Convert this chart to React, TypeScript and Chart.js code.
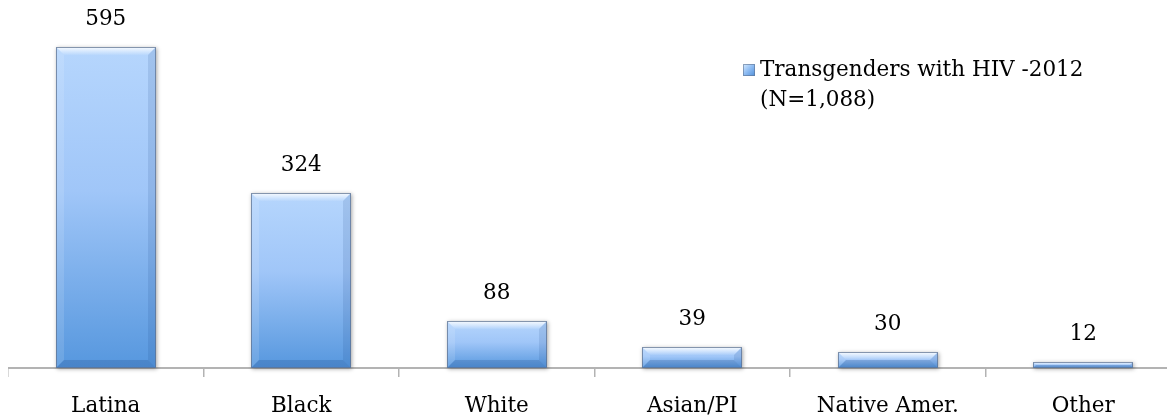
import React, { useEffect, useRef } from "react";
import { Chart, registerables } from "chart.js";

Chart.register(...registerables);

const categories = ["Latina", "Black", "White", "Asian/PI", "Native Amer.", "Other"];
const values = [595, 324, 88, 39, 30, 12];
const legendLines = ["Transgenders with HIV -2012", "(N=1,088)"];
const yMax = 667;

const FONT = "'DejaVu Serif', serif";
const FONT_SIZE = 21.5;

const bevelBars = {
  id: "bevelBars",
  afterDatasetsDraw(chart: any) {
    const ctx = chart.ctx;
    const meta = chart.getDatasetMeta(0);
    meta.data.forEach((bar: any, i: number) => {
      const { x, y, base, width } = bar.getProps(["x", "y", "base", "width"], true);
      const x0 = Math.round(x - width / 2);
      const x1 = Math.round(x + width / 2);
      const y0 = Math.round(y);
      const y1 = Math.round(base);
      const h = y1 - y0;
      const b = Math.min(8, h / 2);
      ctx.save();
      ctx.shadowColor = "rgba(0,0,0,0.35)";
      ctx.shadowBlur = 4;
      ctx.shadowOffsetX = 1;
      ctx.shadowOffsetY = 1;
      const g = ctx.createLinearGradient(0, y0, 0, y1);
      g.addColorStop(0, "#b6d6fd");
      g.addColorStop(0.45, "#a0c6f8");
      g.addColorStop(1, "#5697de");
      ctx.fillStyle = g;
      ctx.fillRect(x0, y0, x1 - x0, h);
      ctx.shadowColor = "transparent";
      ctx.shadowBlur = 0;
      ctx.shadowOffsetX = 0;
      ctx.shadowOffsetY = 0;
      // top bevel
      const tg = ctx.createLinearGradient(0, y0, 0, y0 + b);
      tg.addColorStop(0, "rgba(255,255,255,0.9)");
      tg.addColorStop(1, "rgba(255,255,255,0.05)");
      ctx.fillStyle = tg;
      ctx.beginPath();
      ctx.moveTo(x0, y0);
      ctx.lineTo(x1, y0);
      ctx.lineTo(x1 - b, y0 + b);
      ctx.lineTo(x0 + b, y0 + b);
      ctx.closePath();
      ctx.fill();
      // left bevel
      ctx.fillStyle = "rgba(255,255,255,0.12)";
      ctx.beginPath();
      ctx.moveTo(x0, y0);
      ctx.lineTo(x0 + b, y0 + b);
      ctx.lineTo(x0 + b, y1 - b);
      ctx.lineTo(x0, y1);
      ctx.closePath();
      ctx.fill();
      // right bevel
      ctx.fillStyle = "rgba(20,60,120,0.12)";
      ctx.beginPath();
      ctx.moveTo(x1, y0);
      ctx.lineTo(x1 - b, y0 + b);
      ctx.lineTo(x1 - b, y1 - b);
      ctx.lineTo(x1, y1);
      ctx.closePath();
      ctx.fill();
      // bottom bevel
      ctx.fillStyle = "rgba(20,60,120,0.2)";
      ctx.beginPath();
      ctx.moveTo(x0, y1);
      ctx.lineTo(x0 + b, y1 - b);
      ctx.lineTo(x1 - b, y1 - b);
      ctx.lineTo(x1, y1);
      ctx.closePath();
      ctx.fill();
      ctx.strokeStyle = "rgba(95,115,145,0.75)";
      ctx.lineWidth = 1;
      ctx.strokeRect(x0 + 0.5, y0 + 0.5, x1 - x0 - 1, h - 1);
      // value label
      ctx.fillStyle = "#000";
      ctx.font = FONT_SIZE + "px " + FONT;
      ctx.textAlign = "center";
      ctx.textBaseline = "middle";
      ctx.fillText(String(values[i]), x, y0 - 28);
      ctx.restore();
    });
  },
};

const customLegend = {
  id: "customLegend",
  afterDraw(chart: any) {
    const ctx = chart.ctx;
    ctx.save();
    const bx = 735, by = 56, bs = 12;
    const g = ctx.createLinearGradient(bx, by, bx + bs, by + bs);
    g.addColorStop(0, "#d8ecff");
    g.addColorStop(0.5, "#8dbbf2");
    g.addColorStop(1, "#4f8fd8");
    ctx.fillStyle = g;
    ctx.fillRect(bx, by, bs, bs);
    ctx.strokeStyle = "rgba(95,115,145,0.6)";
    ctx.lineWidth = 1;
    ctx.strokeRect(bx + 0.5, by + 0.5, bs - 1, bs - 1);
    ctx.fillStyle = "#000";
    ctx.font = FONT_SIZE + "px " + FONT;
    ctx.textAlign = "left";
    ctx.textBaseline = "middle";
    legendLines.forEach((line, i) => {
      ctx.fillText(line, 752, 62 + i * 30);
    });
    ctx.restore();
  },
};

export default function App() {
  const ref = useRef<HTMLCanvasElement>(null);
  useEffect(() => {
    if (!ref.current) return;
    const chart = new Chart(ref.current, {
      type: "bar",
      data: {
        labels: categories,
        datasets: [
          {
            label: legendLines.join(" "),
            data: values,
            backgroundColor: "rgba(0,0,0,0)",
            borderWidth: 0,
            barPercentage: 0.51,
            categoryPercentage: 1,
          },
        ],
      },
      options: {
        responsive: false,
        animation: false,
        layout: { padding: 0 },
        plugins: { legend: { display: false }, tooltip: { enabled: false } },
        scales: {
          x: {
            offset: true,
            grid: {
              offset: true,
              drawOnChartArea: false,
              drawTicks: true,
              tickLength: 9,
              color: "#b3b3b3",
              lineWidth: 1.5,
            },
            border: { display: true, color: "#b3b3b3", width: 2 },
            ticks: {
              color: "#000",
              font: { family: FONT, size: FONT_SIZE },
              padding: 17,
              maxRotation: 0,
              autoSkip: false,
            },
            afterFit: (scale: any) => {
              scale.height = 50;
            },
          },
          y: {
            display: false,
            min: 0,
            max: yMax,
          },
        },
      },
      plugins: [bevelBars, customLegend],
    });
    return () => chart.destroy();
  }, []);
  return (
    <div style={{ width: 1167, height: 410, overflow: "hidden", position: "relative" }}>
      <canvas ref={ref} width={1173} height={410} style={{ display: "block" }} />
    </div>
  );
}
